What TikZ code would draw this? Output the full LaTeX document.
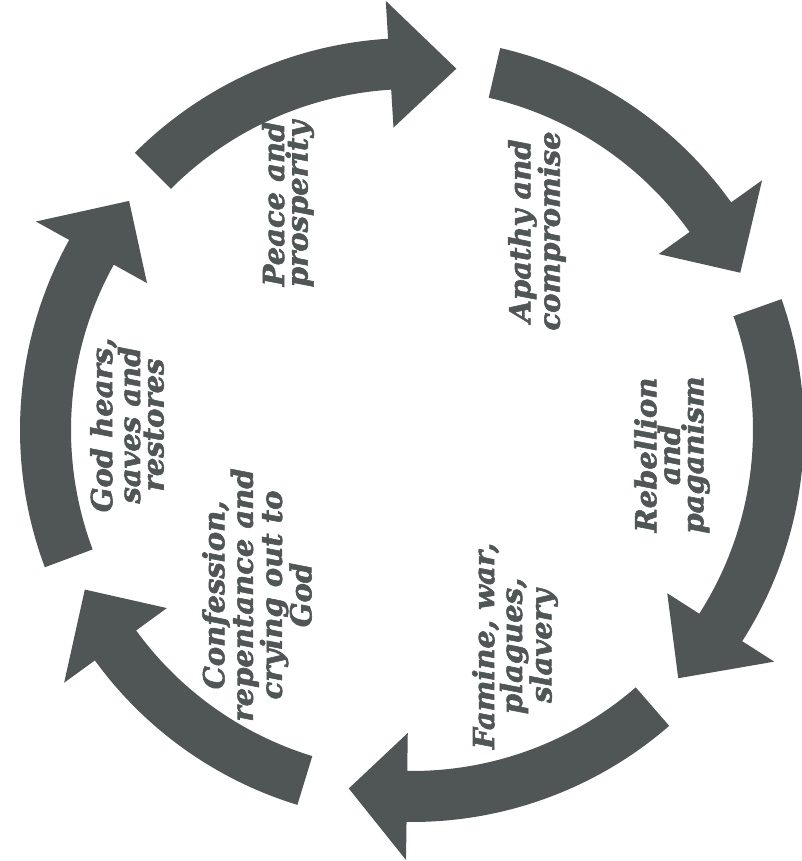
\documentclass[tikz,border=0pt]{standalone}
\usepackage{fontspec}
\setmainfont{DejaVu Serif}
\newfontfamily\lblfont{DejaVu Serif}[BoldItalicFeatures={FakeBold=2}]
\usetikzlibrary{calc}
\definecolor{cyclegray}{RGB}{80,86,86}
\newcommand\cyclearrow[3]{%
  \fill[cyclegray] (#1:392pt) arc[start angle=#1, end angle=#2, radius=392pt]
    -- (#2:430pt) -- (#3:364pt) -- (#2:303pt) -- (#2:341pt)
    arc[start angle=#2, end angle=#1, radius=341pt] -- cycle;}
\begin{document}
\begin{tikzpicture}[x=1pt,y=1pt,
  lbl/.style={text=cyclegray, rotate=90, align=center, inner sep=0pt,
    font=\lblfont\fontsize{29}{23.5}\selectfont\bfseries\itshape}]
\useasboundingbox[fill=white] (0,0) rectangle (801,861);
\begin{scope}[shift={(412pt,431pt)}]
  \cyclearrow{135}{93.5}{83}
  \cyclearrow{77}{35.5}{25.6}
  \cyclearrow{19.5}{-32.6}{-43}
  \cyclearrow{-49}{-90.8}{-100}
  \cyclearrow{-107}{-144}{-154}
  \cyclearrow{200.5}{151}{141}
\end{scope}
\node[lbl] (peace) at (288,657) {Peace and\\prosperity};
\node[lbl] (apathy) at (537,630) {Apathy and\\compromise};
\node[lbl] (rebellion) at (672,406) {Rebellion\\and\\paganism};
\node[lbl] (famine) at (515,215) {Famine, war,\\plagues,\\slavery};
\node[lbl] (confession) at (257,266) {Confession,\\repentance and\\crying out to\\God};
\node[lbl] (god) at (127,436) {God hears,\\saves and\\restores};
\end{tikzpicture}
\end{document}
